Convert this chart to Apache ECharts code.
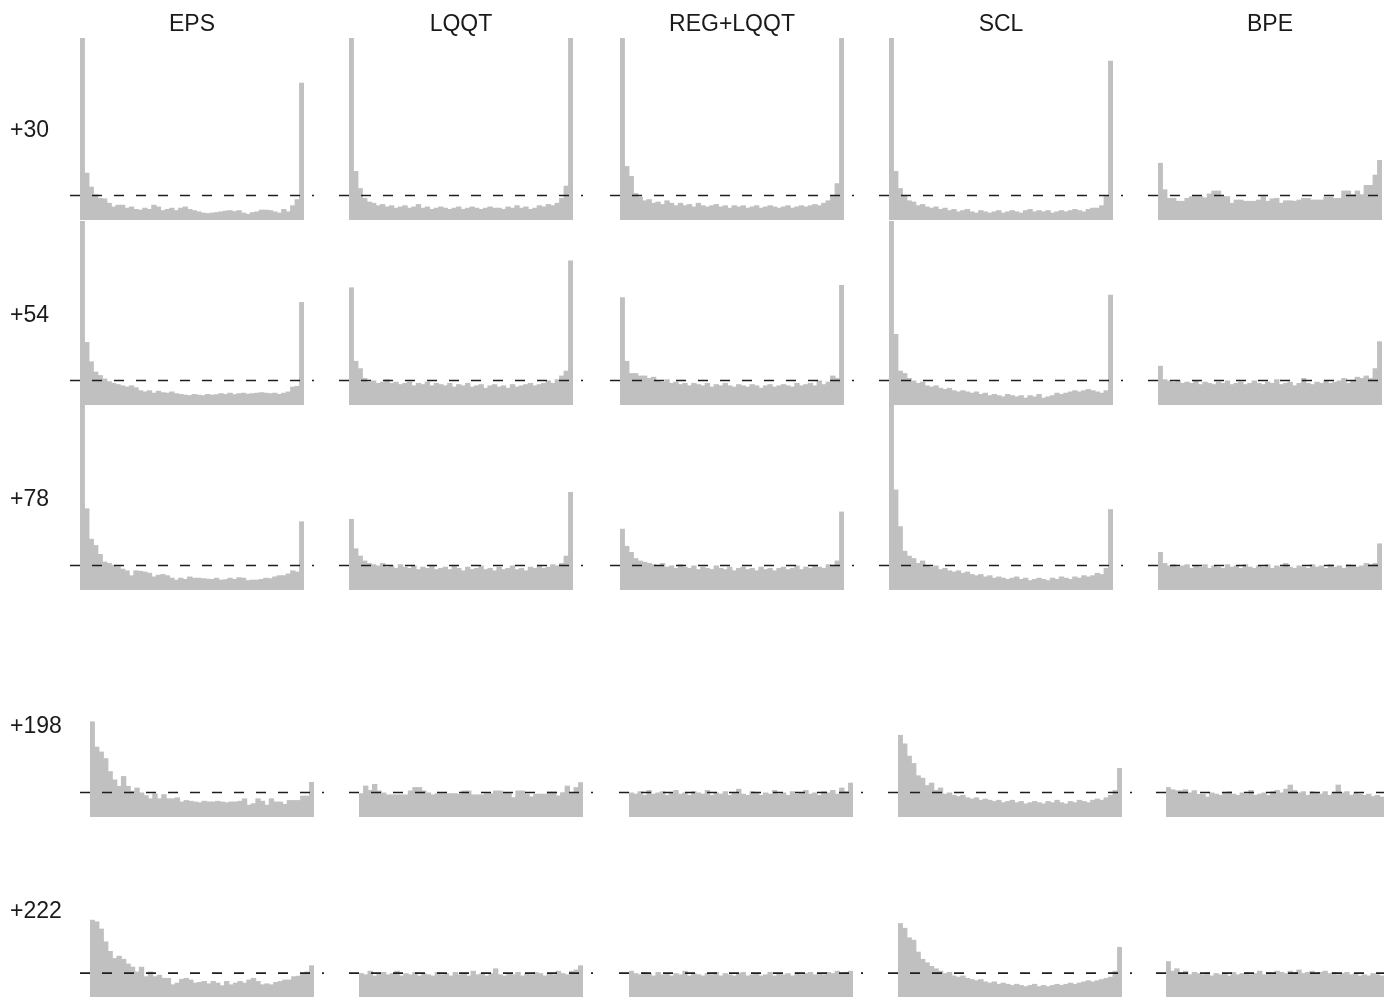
<!DOCTYPE html>
<html>
<head>
<meta charset="utf-8">
<style>
  html, body { margin: 0; padding: 0; background: #fff; }
  #chart { width: 1384px; height: 997px; }
</style>
<script src="https://cdn.jsdelivr.net/npm/echarts@6/dist/echarts.min.js"></script>
</head>
<body>
<div id="chart"></div>
<script>
// column / row labels
const methods = ['EPS', 'LQQT', 'REG+LQQT', 'SCL', 'BPE'];
const leads = ['+30', '+54', '+78', '+198', '+222'];
// 50 rank bins, values relative to the flat (expected) frequency
const ranks = Array.from({ length: 50 }, (_, i) => i + 1);
const expected = 1;

// +30
const eps30 = [9, 1.93, 1.36, 1.05, 0.9, 0.88, 0.7, 0.55, 0.62, 0.62, 0.5, 0.55, 0.45, 0.42, 0.5, 0.45, 0.62, 0.55, 0.4, 0.45, 0.5, 0.4, 0.5, 0.55, 0.45, 0.4, 0.35, 0.3, 0.28, 0.3, 0.32, 0.35, 0.38, 0.4, 0.36, 0.4, 0.3, 0.25, 0.32, 0.35, 0.42, 0.42, 0.4, 0.35, 0.3, 0.45, 0.35, 0.6, 0.85, 5.6];
const lqqt30 = [9, 2.0, 1.3, 0.9, 0.75, 0.7, 0.6, 0.65, 0.55, 0.6, 0.5, 0.55, 0.6, 0.5, 0.55, 0.65, 0.5, 0.55, 0.45, 0.5, 0.55, 0.5, 0.45, 0.5, 0.55, 0.45, 0.5, 0.55, 0.5, 0.45, 0.5, 0.55, 0.5, 0.5, 0.45, 0.55, 0.5, 0.6, 0.5, 0.55, 0.45, 0.5, 0.6, 0.55, 0.65, 0.6, 0.7, 0.9, 1.4, 9];
const reg30 = [9, 2.2, 1.8, 1.1, 0.95, 0.8, 0.85, 0.7, 0.75, 0.65, 0.8, 0.7, 0.6, 0.7, 0.6, 0.65, 0.55, 0.7, 0.6, 0.55, 0.6, 0.65, 0.55, 0.6, 0.5, 0.6, 0.55, 0.6, 0.5, 0.55, 0.6, 0.5, 0.55, 0.6, 0.55, 0.5, 0.55, 0.6, 0.5, 0.55, 0.6, 0.55, 0.6, 0.65, 0.6, 0.7, 0.8, 1.0, 1.5, 9];
const scl30 = [9, 2.0, 1.3, 1.0, 0.8, 0.75, 0.6, 0.65, 0.55, 0.5, 0.55, 0.45, 0.5, 0.4, 0.45, 0.35, 0.4, 0.45, 0.35, 0.3, 0.4, 0.35, 0.3, 0.35, 0.4, 0.3, 0.35, 0.4, 0.35, 0.3, 0.4, 0.45, 0.35, 0.4, 0.35, 0.4, 0.3, 0.35, 0.4, 0.35, 0.4, 0.45, 0.4, 0.35, 0.45, 0.5, 0.5, 0.6, 1.0, 6.5];
const bpe30 = [2.33, 1.25, 0.9, 0.9, 0.78, 0.78, 0.9, 0.97, 0.97, 0.97, 0.92, 1.08, 1.2, 1.2, 0.97, 0.97, 0.7, 0.83, 0.83, 0.78, 0.78, 0.78, 0.83, 0.97, 0.78, 0.88, 0.9, 0.7, 0.8, 0.8, 0.78, 0.83, 0.9, 0.9, 0.83, 0.83, 0.83, 0.95, 0.95, 0.9, 0.9, 1.2, 1.2, 1.05, 1.2, 1.05, 1.43, 1.43, 1.85, 2.45];

// +54
const eps54 = [9, 2.57, 1.78, 1.36, 1.22, 1.08, 0.97, 0.9, 0.85, 0.8, 0.75, 0.8, 0.72, 0.6, 0.55, 0.6, 0.5, 0.58, 0.52, 0.5, 0.55, 0.48, 0.45, 0.42, 0.4, 0.45, 0.42, 0.4, 0.45, 0.42, 0.44, 0.48, 0.45, 0.5, 0.44, 0.48, 0.5, 0.46, 0.48, 0.5, 0.52, 0.5, 0.48, 0.5, 0.45, 0.5, 0.55, 0.75, 0.78, 4.2];
const lqqt54 = [4.8, 1.8, 1.5, 1.1, 0.95, 1.0, 0.9, 0.95, 1.05, 0.9, 0.95, 0.85, 0.9, 0.95, 0.8, 0.9, 0.85, 0.95, 0.8, 0.9, 0.85, 0.8, 0.9, 0.75, 0.85, 0.8, 0.9, 0.75, 0.8, 0.85, 0.7, 0.8, 0.85, 0.75, 0.8, 0.7, 0.85, 0.75, 0.8, 0.85, 0.9, 0.8, 0.85, 0.9, 1.0, 0.9, 1.05, 1.2, 1.4, 5.9];
const reg54 = [4.4, 1.8, 1.3, 1.3, 1.2, 1.2, 1.1, 1.15, 1.0, 0.95, 1.05, 0.9, 0.95, 0.85, 0.9, 0.8, 0.9, 0.85, 0.8, 0.9, 0.75, 0.85, 0.8, 0.9, 0.8, 0.75, 0.85, 0.8, 0.75, 0.85, 0.8, 0.7, 0.8, 0.85, 0.75, 0.8, 0.85, 0.8, 0.75, 0.9, 0.8, 0.85, 0.9, 0.8, 1.0, 0.85, 0.95, 1.2, 1.1, 4.9];
const scl54 = [9, 2.9, 1.4, 1.3, 1.1, 1.0, 0.9, 0.95, 0.8, 0.75, 0.8, 0.7, 0.65, 0.7, 0.6, 0.55, 0.6, 0.55, 0.5, 0.55, 0.45, 0.5, 0.4, 0.45, 0.4, 0.35, 0.45, 0.4, 0.35, 0.4, 0.3, 0.4, 0.35, 0.45, 0.3, 0.35, 0.4, 0.5, 0.45, 0.5, 0.55, 0.6, 0.55, 0.6, 0.65, 0.6, 0.55, 0.5, 0.6, 4.5];
const bpe54 = [1.6, 1.05, 1.0, 0.95, 1.0, 0.9, 0.95, 0.9, 1.0, 0.85, 0.95, 0.9, 0.85, 0.95, 0.9, 1.0, 0.85, 0.9, 0.95, 0.85, 0.9, 1.0, 0.9, 0.85, 0.95, 0.9, 1.05, 0.85, 0.9, 0.95, 0.8, 0.9, 1.1, 0.9, 0.85, 0.95, 0.9, 1.0, 0.9, 0.95, 1.0, 1.1, 0.9, 1.0, 1.15, 1.1, 1.2, 1.1, 1.5, 2.6];

// +78
const eps78 = [9, 3.33, 2.09, 1.83, 1.47, 1.16, 1.1, 1.03, 0.97, 0.87, 0.8, 0.6, 0.8, 0.78, 0.75, 0.7, 0.55, 0.62, 0.65, 0.6, 0.5, 0.42, 0.5, 0.45, 0.55, 0.5, 0.5, 0.48, 0.46, 0.45, 0.5, 0.42, 0.44, 0.5, 0.45, 0.52, 0.5, 0.4, 0.42, 0.42, 0.45, 0.5, 0.48, 0.55, 0.6, 0.6, 0.67, 0.8, 0.75, 2.8];
const lqqt78 = [2.9, 1.7, 1.4, 1.2, 1.1, 1.05, 1.0, 1.1, 0.95, 1.0, 0.9, 1.05, 0.95, 0.9, 1.0, 0.85, 0.95, 0.9, 1.0, 0.85, 0.9, 0.95, 0.85, 1.0, 0.9, 0.8, 0.95, 0.85, 0.9, 1.0, 0.85, 0.9, 0.8, 0.95, 0.85, 0.9, 1.0, 0.85, 0.9, 0.8, 0.95, 0.9, 1.0, 0.9, 0.95, 1.05, 1.0, 1.1, 1.4, 4.0];
const reg78 = [2.5, 1.8, 1.55, 1.3, 1.2, 1.15, 1.1, 1.05, 1.0, 1.1, 0.95, 1.0, 0.9, 1.05, 0.95, 0.9, 1.0, 0.85, 0.95, 0.9, 0.85, 1.0, 0.9, 0.85, 0.95, 0.8, 0.9, 0.95, 0.85, 0.9, 0.8, 0.95, 0.85, 0.9, 0.8, 0.9, 0.95, 0.85, 0.9, 1.0, 0.85, 0.95, 0.9, 1.0, 0.95, 0.9, 1.05, 1.0, 1.2, 3.2];
const scl78 = [9, 4.1, 2.6, 1.6, 1.4, 1.3, 1.1, 1.2, 1.0, 0.95, 1.0, 0.85, 0.9, 0.8, 0.75, 0.8, 0.7, 0.75, 0.65, 0.6, 0.65, 0.55, 0.6, 0.5, 0.55, 0.5, 0.45, 0.5, 0.55, 0.45, 0.5, 0.4, 0.45, 0.5, 0.45, 0.4, 0.5, 0.45, 0.55, 0.5, 0.45, 0.55, 0.5, 0.6, 0.55, 0.6, 0.7, 0.65, 0.9, 3.3];
const bpe78 = [1.55, 1.1, 1.0, 1.05, 0.95, 1.0, 1.05, 0.9, 1.0, 0.95, 1.05, 0.9, 1.0, 0.95, 0.9, 1.05, 0.95, 1.0, 0.9, 1.05, 0.95, 0.9, 1.0, 0.95, 1.05, 0.9, 1.0, 0.95, 1.1, 0.95, 0.9, 1.0, 0.95, 0.9, 1.05, 0.95, 1.0, 0.9, 1.05, 0.95, 1.0, 0.9, 1.05, 1.0, 0.95, 1.0, 1.1, 1.05, 1.1, 1.9];

// +198
const eps198 = [3.9, 2.87, 2.67, 2.4, 1.87, 1.53, 1.27, 1.67, 1.27, 1.07, 1.2, 1.0, 0.89, 0.76, 0.96, 0.76, 0.93, 0.76, 0.76, 0.8, 0.63, 0.69, 0.66, 0.63, 0.6, 0.66, 0.63, 0.63, 0.66, 0.63, 0.6, 0.63, 0.63, 0.66, 0.76, 0.5, 0.56, 0.76, 0.66, 0.5, 0.76, 0.63, 0.63, 0.53, 0.69, 0.69, 0.69, 0.87, 0.87, 1.43];
const lqqt198 = [0.97, 1.28, 1.1, 1.35, 1.08, 1.0, 0.92, 0.92, 0.92, 0.92, 0.92, 1.08, 1.22, 1.22, 1.08, 1.0, 0.92, 0.97, 0.97, 0.97, 0.97, 0.97, 0.95, 1.08, 1.08, 0.92, 0.92, 0.92, 0.97, 0.97, 1.08, 1.08, 1.01, 1.01, 0.81, 1.08, 1.08, 0.95, 0.84, 0.95, 0.95, 0.95, 1.04, 1.04, 0.88, 1.01, 1.28, 1.01, 1.22, 1.42];
const reg198 = [1.0, 0.95, 1.05, 0.9, 1.1, 0.95, 1.0, 1.05, 0.9, 1.0, 1.1, 0.95, 1.0, 0.9, 1.05, 1.0, 0.95, 1.1, 0.9, 1.0, 0.95, 1.05, 0.9, 1.0, 1.15, 0.95, 0.9, 1.05, 1.0, 0.9, 1.0, 0.95, 1.1, 0.95, 1.0, 0.9, 1.05, 0.95, 1.0, 1.1, 0.95, 1.0, 0.9, 1.05, 1.0, 1.1, 0.95, 1.2, 1.05, 1.4];
const scl198 = [3.35, 3.0, 2.5, 2.2, 1.7, 1.6, 1.3, 1.4, 1.1, 1.2, 0.95, 1.0, 0.9, 0.85, 0.9, 0.8, 0.75, 0.8, 0.7, 0.75, 0.7, 0.65, 0.7, 0.6, 0.65, 0.7, 0.6, 0.65, 0.55, 0.6, 0.65, 0.6, 0.55, 0.65, 0.6, 0.7, 0.6, 0.55, 0.65, 0.6, 0.7, 0.65, 0.6, 0.7, 0.75, 0.7, 0.8, 0.9, 1.1, 2.0];
const bpe198 = [1.22, 1.13, 1.09, 1.09, 1.13, 1.0, 1.09, 0.94, 0.94, 0.83, 1.0, 0.95, 0.9, 1.0, 1.05, 0.95, 0.9, 1.0, 0.95, 1.1, 0.9, 0.95, 1.0, 0.9, 1.05, 1.1, 1.0, 1.15, 1.32, 1.1, 1.0, 1.05, 0.9, 1.05, 1.0, 0.95, 1.05, 0.9, 1.0, 1.32, 1.0, 1.05, 0.9, 1.0, 0.95, 0.9, 0.95, 0.85, 0.9, 0.83];

// +222
const eps222 = [3.24, 3.17, 2.87, 2.33, 1.93, 1.63, 1.73, 1.6, 1.4, 1.27, 1.07, 1.27, 0.87, 1.07, 0.87, 0.93, 0.8, 0.8, 0.53, 0.6, 0.76, 0.8, 0.73, 0.6, 0.63, 0.67, 0.57, 0.67, 0.6, 0.49, 0.67, 0.53, 0.6, 0.67, 0.6, 0.73, 0.8, 0.67, 0.53, 0.57, 0.53, 0.63, 0.67, 0.73, 0.73, 0.87, 0.89, 1.0, 1.07, 1.33];
const lqqt222 = [1.0, 0.95, 1.1, 0.9, 1.0, 1.05, 0.95, 1.0, 1.1, 0.9, 1.0, 0.95, 1.05, 0.9, 1.0, 0.95, 0.9, 1.05, 0.95, 1.0, 0.9, 1.05, 0.95, 1.0, 0.9, 1.1, 0.95, 1.0, 0.9, 1.0, 1.2, 0.95, 0.9, 1.0, 0.95, 1.05, 0.9, 1.0, 0.95, 1.05, 1.0, 0.9, 1.0, 0.95, 1.1, 1.0, 0.95, 1.1, 1.15, 1.33];
const reg222 = [1.1, 1.0, 0.95, 1.05, 1.0, 0.9, 1.05, 0.95, 1.0, 0.9, 1.0, 0.95, 1.1, 0.9, 1.0, 0.95, 0.9, 1.0, 0.95, 1.05, 0.9, 1.0, 0.95, 0.9, 1.0, 1.05, 0.9, 0.95, 1.0, 0.9, 0.95, 1.05, 0.9, 1.0, 0.95, 1.0, 0.9, 1.05, 0.95, 1.0, 1.05, 0.95, 1.0, 0.95, 1.05, 1.0, 1.1, 1.0, 1.05, 1.1];
const scl222 = [3.1, 2.9, 2.5, 2.4, 1.9, 1.6, 1.45, 1.3, 1.2, 1.1, 1.0, 1.05, 0.9, 0.85, 0.9, 0.8, 0.75, 0.7, 0.75, 0.65, 0.6, 0.65, 0.55, 0.6, 0.55, 0.5, 0.55, 0.5, 0.45, 0.5, 0.55, 0.45, 0.5, 0.45, 0.5, 0.55, 0.5, 0.55, 0.6, 0.55, 0.6, 0.65, 0.7, 0.65, 0.7, 0.75, 0.8, 0.85, 1.1, 2.1];
const bpe222 = [1.5, 1.1, 1.2, 1.0, 1.1, 0.95, 1.05, 1.0, 0.95, 1.05, 0.9, 1.0, 0.95, 1.0, 0.9, 1.05, 0.95, 1.0, 1.05, 0.95, 1.0, 1.1, 0.95, 1.05, 1.0, 1.1, 1.05, 1.0, 1.1, 1.05, 1.15, 1.0, 1.05, 1.1, 1.0, 1.05, 1.1, 1.0, 1.05, 0.95, 1.0, 1.05, 0.95, 1.0, 0.9, 0.95, 0.9, 1.0, 0.95, 0.9];

const panels = [
  [eps30, lqqt30, reg30, scl30, bpe30],
  [eps54, lqqt54, reg54, scl54, bpe54],
  [eps78, lqqt78, reg78, scl78, bpe78],
  [eps198, lqqt198, reg198, scl198, bpe198],
  [eps222, lqqt222, reg222, scl222, bpe222]
];

// layout (px)
const rowTop = [38, 221, 405, 633, 818];
const rowBase = [220, 405, 590, 817, 1002];
const colLeftTop = [80, 349, 620, 889, 1158];
const colLeftLow = [90, 359, 629, 898, 1166];
const labelY = [131, 316, 500, 727, 912];
const panelW = 224;
const pxPerUnit = 24.5;
const font = '"Liberation Sans", Arial, Helvetica, sans-serif';

let myChart = echarts.init(document.getElementById('chart'));

let grids = [], xAxes = [], yAxes = [], series = [], texts = [];

panels.forEach((row, r) => {
  row.forEach((vals, c) => {
    let left = (r < 3 ? colLeftTop : colLeftLow)[c];
    let h = rowBase[r] - rowTop[r];
    let ymax = h / pxPerUnit;

    // histogram (bars slightly wider than a bin so no seams show)
    let gi = grids.length;
    grids.push({ left: left, top: rowTop[r], width: panelW, height: h });
    xAxes.push({ type: 'category', gridIndex: gi, data: ranks, show: false, boundaryGap: true });
    yAxes.push({ type: 'value', gridIndex: gi, min: 0, max: ymax, show: false });
    series.push({
      type: 'bar', xAxisIndex: gi, yAxisIndex: gi, data: vals,
      barWidth: panelW / ranks.length + 0.9, barGap: '-100%', clip: true, silent: true,
      itemStyle: { color: '#c0c0c0' }
    });

    // dashed line for the flat histogram, a bit wider than the bars
    gi = grids.length;
    grids.push({ left: left - 10, top: rowTop[r], width: panelW + 20, height: h });
    xAxes.push({ type: 'value', gridIndex: gi, min: 0, max: 1, show: false });
    yAxes.push({ type: 'value', gridIndex: gi, min: 0, max: ymax, show: false });
    series.push({
      type: 'line', xAxisIndex: gi, yAxisIndex: gi, silent: true,
      data: [[0, expected], [1, expected]], symbol: 'none',
      lineStyle: { color: '#1e1e1e', width: 1.6, type: [10, 12] }
    });
  });
});

methods.forEach((m, c) => {
  texts.push({
    type: 'text', x: colLeftTop[c] + panelW / 2, y: 25,
    style: { text: m, font: '23px ' + font, fill: '#1a1a1a', textAlign: 'center', textVerticalAlign: 'middle' }
  });
});
leads.forEach((l, r) => {
  texts.push({
    type: 'text', x: 10, y: labelY[r],
    style: { text: l, font: '23px ' + font, fill: '#1a1a1a', textAlign: 'left', textVerticalAlign: 'middle' }
  });
});

myChart.setOption({
  animation: false,
  grid: grids,
  xAxis: xAxes,
  yAxis: yAxes,
  series: series,
  graphic: texts
});

window.addEventListener('resize', () => {
  if (myChart) {
    myChart.resize();
  }
});
</script>
</body>
</html>
